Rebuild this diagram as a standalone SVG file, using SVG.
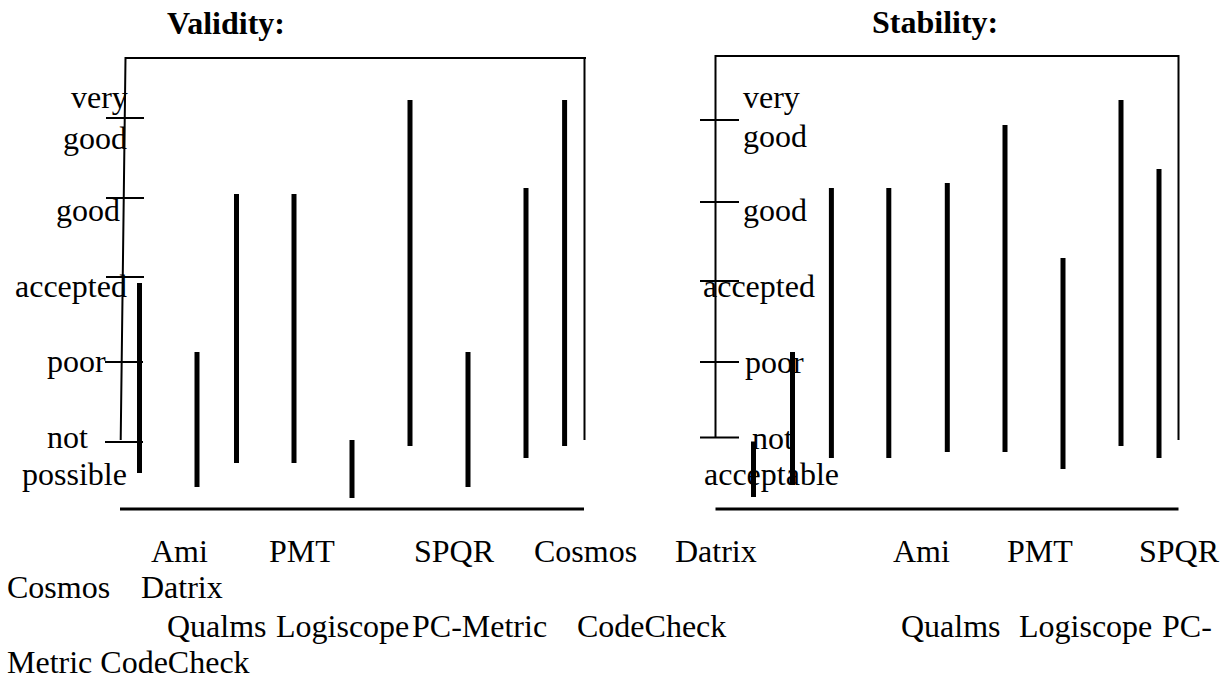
<svg xmlns="http://www.w3.org/2000/svg" width="1225" height="682" viewBox="0 0 1225 682">
<style>
text{font-family:"Liberation Serif","Times New Roman",serif;font-size:32px;fill:#000}
.t{font-weight:bold}
.ax{stroke:#000;stroke-width:2;fill:none}
.base{stroke:#000;stroke-width:3}
.bar{stroke:#000;stroke-width:5}
</style>
<rect width="1225" height="682" fill="#fff"/>
<g id="validity">
<text class="t" x="167" y="34">Validity:</text>
<path class="ax" d="M120.7,440 L125.5,58 L586,58 M584.5,58 L584.5,440"/>
<path class="ax" d="M106,118 H144 M106,198 H144 M106,277 H144 M105,362 H143 M105,442 H143"/>
<line class="base" x1="120" y1="509" x2="584" y2="509"/>
<text x="71" y="108">very</text>
<text x="63" y="149">good</text>
<text x="56" y="221">good</text>
<text x="15" y="297">accepted</text>
<text x="47" y="372">poor</text>
<text x="47" y="448">not</text>
<text x="22" y="485">possible</text>
<line class="bar" x1="139.5" y1="283" x2="139.5" y2="473"/>
<line class="bar" x1="197" y1="352" x2="197" y2="487"/>
<line class="bar" x1="236.5" y1="194" x2="236.5" y2="463"/>
<line class="bar" x1="294" y1="194" x2="294" y2="463"/>
<line class="bar" x1="352" y1="440" x2="352" y2="498"/>
<line class="bar" x1="410" y1="100" x2="410" y2="446"/>
<line class="bar" x1="468" y1="352" x2="468" y2="487"/>
<line class="bar" x1="526" y1="188" x2="526" y2="458"/>
<line class="bar" x1="564.6" y1="100" x2="564.6" y2="446"/>
</g>
<g id="stability">
<text class="t" x="872" y="33">Stability:</text>
<path class="ax" d="M715.5,438 L715.5,56 L1178.5,56 L1178.5,440"/>
<path class="ax" d="M700,120 H739 M700,202 H739 M700,281 H739 M700,362 H739 M700,437.5 H739"/>
<line class="base" x1="715.5" y1="509" x2="1178.5" y2="509"/>
<text x="743" y="108">very</text>
<text x="743" y="147">good</text>
<text x="743" y="221">good</text>
<text x="703" y="297">accepted</text>
<text x="745" y="373">poor</text>
<text x="752" y="449">not</text>
<text x="704" y="485">acceptable</text>
<line class="bar" x1="753.5" y1="441.5" x2="753.5" y2="497"/>
<line class="bar" x1="792.5" y1="352" x2="792.5" y2="485"/>
<line class="bar" x1="831.4" y1="188" x2="831.4" y2="458"/>
<line class="bar" x1="888.8" y1="188" x2="888.8" y2="458"/>
<line class="bar" x1="947.3" y1="183" x2="947.3" y2="452"/>
<line class="bar" x1="1005" y1="125" x2="1005" y2="452"/>
<line class="bar" x1="1063" y1="258" x2="1063" y2="469"/>
<line class="bar" x1="1121" y1="100" x2="1121" y2="446"/>
<line class="bar" x1="1159" y1="169" x2="1159" y2="458"/>
</g>
<g id="tool-names">
<text x="151" y="562">Ami</text>
<text x="269" y="562">PMT</text>
<text x="414" y="562">SPQR</text>
<text x="534" y="562">Cosmos</text>
<text x="675" y="562">Datrix</text>
<text x="893" y="562">Ami</text>
<text x="1007" y="562">PMT</text>
<text x="1139" y="562">SPQR</text>
<text x="7" y="598">Cosmos</text>
<text x="141" y="598">Datrix</text>
<text x="167" y="637">Qualms</text>
<text x="276" y="637">Logiscope</text>
<text x="412" y="637">PC-Metric</text>
<text x="577" y="637">CodeCheck</text>
<text x="901" y="637">Qualms</text>
<text x="1019" y="637">Logiscope</text>
<text x="1162" y="637">PC-</text>
<text x="7" y="673">Metric CodeCheck</text>
</g>
</svg>
